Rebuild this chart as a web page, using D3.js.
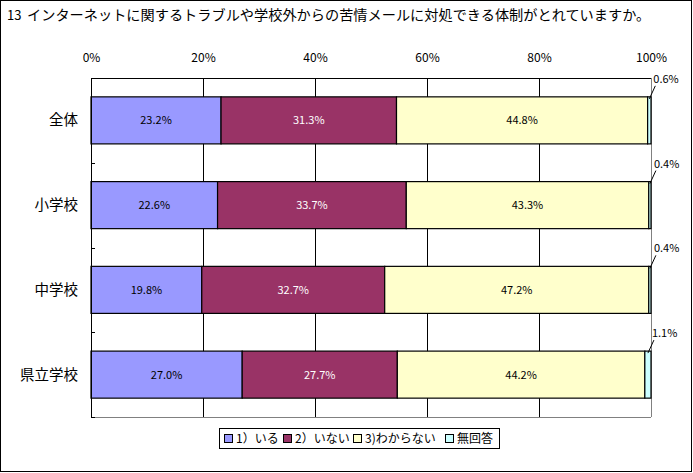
<!DOCTYPE html>
<html>
<head>
<meta charset="UTF-8">
<script src="https://d3js.org/d3.v7.min.js"></script>
<style>
  body { margin: 0; background: #fff; }
  text { font-family: "Noto Sans CJK JP", "DejaVu Sans", sans-serif; }
</style>
</head>
<body>
<div id="chart"></div>
<script>
// data
var categories = ["全体", "小学校", "中学校", "県立学校"];
var seriesNames = ["1）いる", "2）いない", "3)わからない", "無回答"];
var iru     = [23.2, 22.6, 19.8, 27.0];
var inai    = [31.3, 33.7, 32.7, 27.7];
var wakaran = [44.8, 43.3, 47.2, 44.2];
var mukaito = [0.6, 0.4, 0.4, 1.1];
var tickLabels = ["0%", "20%", "40%", "60%", "80%", "100%"];
var colors = ["#9999FF", "#993366", "#FFFFCC", "#CCFFFF"];

var W = 693, H = 473;
var pL = 91, pR = 651, pT = 78, pB = 417;

var rows = categories.map(function(c, i) {
  return { cat: c, s0: iru[i], s1: inai[i], s2: wakaran[i], s3: mukaito[i] };
});
var keys = ["s0", "s1", "s2", "s3"];
var stacked = d3.stack().keys(keys).offset(d3.stackOffsetExpand)(rows);

var svg = d3.select("#chart").append("svg")
  .attr("width", W).attr("height", H);

svg.append("rect").attr("x", 0.5).attr("y", 0.5)
  .attr("width", W - 2).attr("height", H - 2)
  .attr("fill", "#fff").attr("stroke", "#000");

svg.append("text").attr("x", 7).attr("y", 20).attr("font-size", 13).text("13");
svg.append("text").attr("x", 27).attr("y", 20)
  .attr("font-size", 14.2).text("インターネットに関するトラブルや学校外からの苦情メールに対処できる体制がとれていますか。");

var x = d3.scaleLinear().domain([0, 1]).range([pL, pR]);
var y = d3.scaleBand().domain(categories).range([pT, pB]).paddingInner(0.445).paddingOuter(0.2225);
var band = d3.scaleBand().domain(categories).range([pT, pB]);

// grid
var g = svg.append("g");
[0.2, 0.4, 0.6, 0.8].forEach(function(v) {
  g.append("line").attr("x1", Math.round(x(v)) + 0.5).attr("x2", Math.round(x(v)) + 0.5)
    .attr("y1", pT).attr("y2", pB).attr("stroke", "#000");
});
g.append("line").attr("x1", pL).attr("x2", pR).attr("y1", pT + 0.5).attr("y2", pT + 0.5).attr("stroke", "#000");
g.append("line").attr("x1", pR + 0.5).attr("x2", pR + 0.5).attr("y1", pT).attr("y2", pB).attr("stroke", "#808080");
g.append("line").attr("x1", pL).attr("x2", pR).attr("y1", pB + 0.5).attr("y2", pB + 0.5).attr("stroke", "#808080");

// top axis labels
var xAxis = d3.axisTop(x).tickValues([0, 0.2, 0.4, 0.6, 0.8, 1])
  .tickFormat(function(d, i) { return tickLabels[i]; }).tickSize(0).tickPadding(0);
var ax = svg.append("g").attr("transform", "translate(0,62)").call(xAxis);
ax.select(".domain").remove();
ax.selectAll("text").attr("font-size", 12).attr("font-family", "Noto Sans CJK JP").attr("fill", "#000");

// bars
svg.append("g").selectAll("g").data(stacked).enter().append("g")
  .attr("fill", function(d, i) { return colors[i]; })
  .selectAll("rect").data(function(d) { return d; }).enter().append("rect")
  .attr("x", function(d) { return x(d[0]); })
  .attr("width", function(d) { return x(d[1]) - x(d[0]); })
  .attr("y", function(d) { return y(d.data.cat); })
  .attr("height", y.bandwidth())
  .attr("stroke", "#000").attr("stroke-width", 1.2);

// left axis
svg.append("line").attr("x1", pL + 0.5).attr("x2", pL + 0.5).attr("y1", pT).attr("y2", pB + 1).attr("stroke", "#000");
categories.concat(["end"]).forEach(function(c, i) {
  var yy = Math.round(pT + i * band.bandwidth()) + 0.5;
  svg.append("line").attr("x1", pL).attr("x2", pL + 4).attr("y1", yy).attr("y2", yy).attr("stroke", "#000");
});
svg.append("g").selectAll("text").data(categories).enter().append("text")
  .attr("x", 78).attr("y", function(d) { return band(d) + band.bandwidth() / 2 + 5; })
  .attr("text-anchor", "end").attr("font-size", 14.5).text(function(d) { return d; });

// value labels
stacked.forEach(function(s, si) {
  s.forEach(function(d) {
    var v = d.data[keys[si]];
    var mid = (x(d[0]) + x(d[1])) / 2;
    var y0 = y(d.data.cat);
    if (v < 3) {
      svg.append("line").attr("x1", mid).attr("y1", y0 + 2).attr("x2", mid + 6).attr("y2", y0 - 11)
        .attr("stroke", "#000");
      svg.append("text").attr("x", mid + 4).attr("y", y0 - 14).attr("font-size", 11)
        .text(v.toFixed(1) + "%");
    } else {
      svg.append("text").attr("x", mid).attr("y", y0 + y.bandwidth() / 2 + 4)
        .attr("text-anchor", "middle").attr("font-size", 11)
        .attr("fill", si == 1 ? "#fff" : "#000")
        .text(v.toFixed(1) + "%");
    }
  });
});

// legend
var lg = svg.append("g");
lg.append("rect").attr("x", 219.5).attr("y", 428.5).attr("width", 280).attr("height", 20)
  .attr("fill", "#fff").attr("stroke", "#000");
var lx = [224, 283, 353, 445];
seriesNames.forEach(function(n, i) {
  lg.append("rect").attr("x", lx[i] + 0.5).attr("y", 434.5).attr("width", 8).attr("height", 8)
    .attr("fill", colors[i]).attr("stroke", "#000");
  lg.append("text").attr("x", lx[i] + 12).attr("y", 443).attr("font-size", 12).text(n);
});
</script>
</body>
</html>
